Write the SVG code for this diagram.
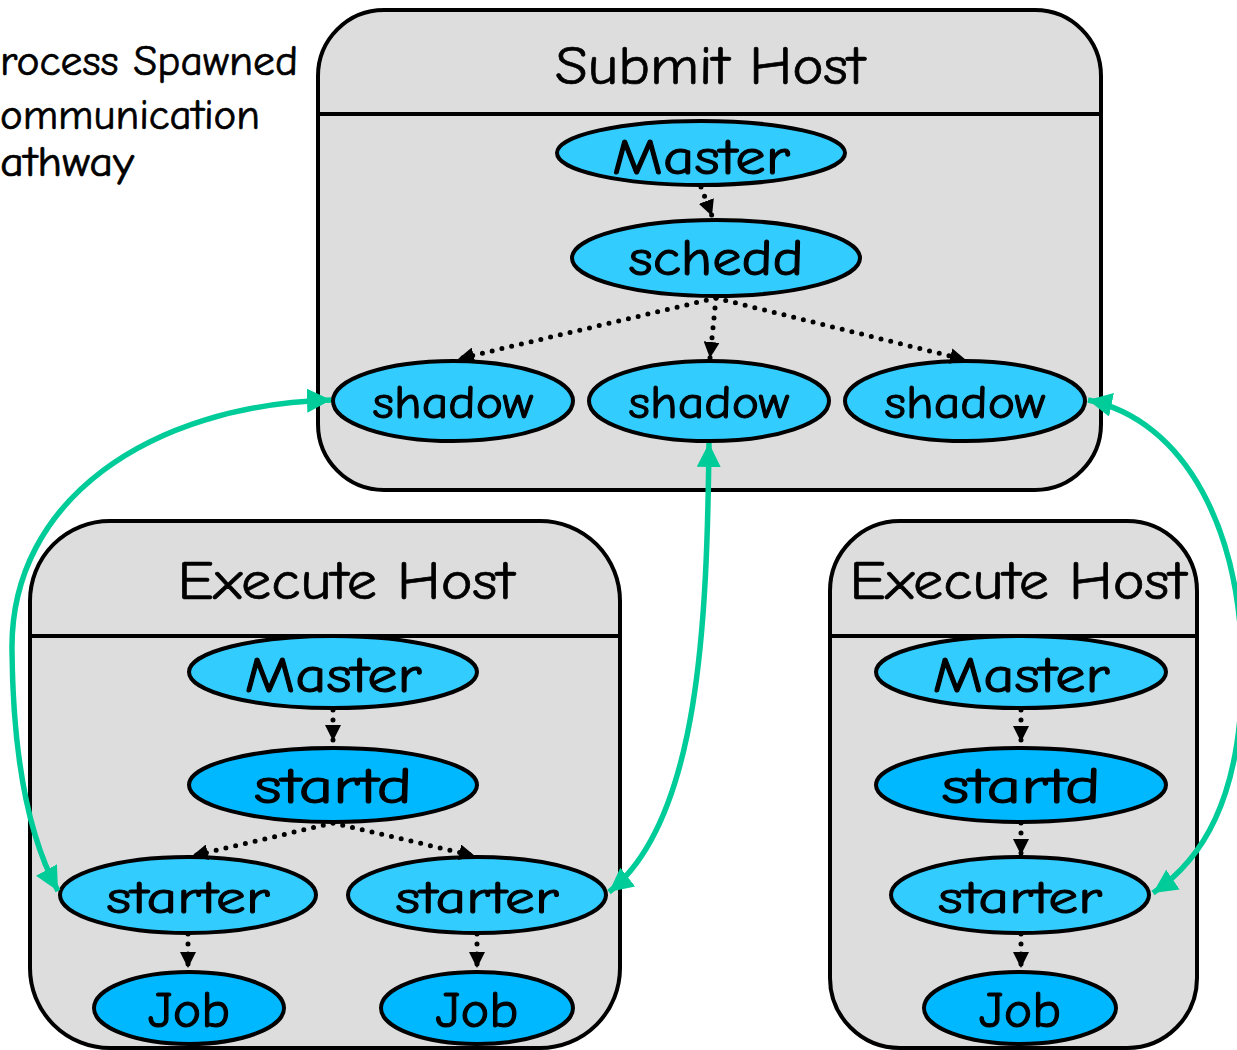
<svg xmlns="http://www.w3.org/2000/svg" width="1237" height="1050" viewBox="0 0 1237 1050">
  <style>
    text { font-family: "Comic Sans MS", "Comic Neue", "Noto Sans", "DejaVu Sans", sans-serif; fill: #000; stroke: #000; stroke-width: 0.7; }
    .host { fill: #dddddd; stroke: #000; stroke-width: 4; }
    .divider { stroke: #000; stroke-width: 4; }
    .title { font-size: 54px; text-anchor: middle; }
    .proc { fill: #33ccff; stroke: #000; stroke-width: 4; }
    .proc2 { fill: #00b8ff; stroke: #000; stroke-width: 4; }
    .label { font-size: 50px; text-anchor: middle; stroke-width: 1; }
    .label-s { font-size: 46px; text-anchor: middle; stroke-width: 1; }
    .legend { font-size: 42px; }
    .spawn { fill: none; stroke: #000; stroke-width: 5; stroke-linecap: round; stroke-dasharray: 0 10; }
    .comm { fill: none; stroke: #00cc99; stroke-width: 5.5; }
  </style>
  <defs>
    <marker id="spawnHead" markerUnits="userSpaceOnUse" markerWidth="18" markerHeight="16" refX="16" refY="8" orient="auto">
      <path d="M0,0 L16,8 L0,16 Z" fill="#000"/>
    </marker>
    <marker id="commHead" markerUnits="userSpaceOnUse" markerWidth="26" markerHeight="24" refX="24" refY="12" orient="auto-start-reverse">
      <path d="M0,0 L24,12 L0,24 Z" fill="#00cc99"/>
    </marker>
  </defs>

  <!-- legend text -->
  <g id="legend">
    <text class="legend" x="0" y="75" textLength="298" lengthAdjust="spacingAndGlyphs">rocess Spawned</text>
    <text class="legend" x="0" y="129" textLength="260" lengthAdjust="spacingAndGlyphs">ommunication</text>
    <text class="legend" x="0" y="176" textLength="134" lengthAdjust="spacingAndGlyphs">athway</text>
  </g>

  <!-- host containers -->
  <g id="submit-host">
    <rect class="host" x="318" y="10" width="783" height="480" rx="66" ry="66"/>
    <line class="divider" x1="318" y1="114" x2="1101" y2="114"/>
    <text class="title" x="710" y="84" textLength="310" lengthAdjust="spacingAndGlyphs">Submit Host</text>
  </g>
  <g id="execute-host-1">
    <rect class="host" x="30" y="521" width="590" height="527" rx="80" ry="80"/>
    <line class="divider" x1="30" y1="636" x2="620" y2="636"/>
    <text class="title" x="346" y="599" textLength="337" lengthAdjust="spacingAndGlyphs">Execute Host</text>
  </g>
  <g id="execute-host-2">
    <rect class="host" x="830" y="521" width="367" height="527" rx="70" ry="70"/>
    <line class="divider" x1="830" y1="636" x2="1197" y2="636"/>
    <text class="title" x="1018" y="599" textLength="337" lengthAdjust="spacingAndGlyphs">Execute Host</text>
  </g>

  <!-- submit host processes -->
  <g id="submit-master">
    <ellipse class="proc" cx="701" cy="153" rx="144" ry="32"/>
    <text class="label" x="701" y="174" textLength="178" lengthAdjust="spacingAndGlyphs">Master</text>
  </g>
  <g id="schedd">
    <ellipse class="proc" cx="716" cy="258" rx="144" ry="38"/>
    <text class="label" x="716" y="275" textLength="175" lengthAdjust="spacingAndGlyphs">schedd</text>
  </g>
  <g id="shadow-1">
    <ellipse class="proc" cx="453" cy="401" rx="120" ry="40"/>
    <text class="label-s" x="453" y="418" textLength="161" lengthAdjust="spacingAndGlyphs">shadow</text>
  </g>
  <g id="shadow-2">
    <ellipse class="proc" cx="709" cy="401" rx="120" ry="40"/>
    <text class="label-s" x="709" y="418" textLength="161" lengthAdjust="spacingAndGlyphs">shadow</text>
  </g>
  <g id="shadow-3">
    <ellipse class="proc" cx="965" cy="401" rx="120" ry="40"/>
    <text class="label-s" x="965" y="418" textLength="161" lengthAdjust="spacingAndGlyphs">shadow</text>
  </g>

  <!-- execute host 1 processes -->
  <g id="exec1-master">
    <ellipse class="proc" cx="333" cy="672" rx="144" ry="36"/>
    <text class="label" x="333" y="692" textLength="177" lengthAdjust="spacingAndGlyphs">Master</text>
  </g>
  <g id="exec1-startd">
    <ellipse class="proc2" cx="333" cy="785" rx="144" ry="37"/>
    <text class="label" x="333" y="803" textLength="158" lengthAdjust="spacingAndGlyphs">startd</text>
  </g>
  <g id="exec1-starter-1">
    <ellipse class="proc" cx="188" cy="895" rx="128" ry="38"/>
    <text class="label-s" x="188" y="913" textLength="163" lengthAdjust="spacingAndGlyphs">starter</text>
  </g>
  <g id="exec1-starter-2">
    <ellipse class="proc" cx="477" cy="895" rx="129" ry="38"/>
    <text class="label-s" x="477" y="913" textLength="163" lengthAdjust="spacingAndGlyphs">starter</text>
  </g>
  <g id="exec1-job-1">
    <ellipse class="proc2" cx="189" cy="1008" rx="95" ry="36"/>
    <text class="label" x="189" y="1027" textLength="82" lengthAdjust="spacingAndGlyphs">Job</text>
  </g>
  <g id="exec1-job-2">
    <ellipse class="proc2" cx="477" cy="1008" rx="96" ry="36"/>
    <text class="label" x="477" y="1027" textLength="83" lengthAdjust="spacingAndGlyphs">Job</text>
  </g>

  <!-- execute host 2 processes -->
  <g id="exec2-master">
    <ellipse class="proc" cx="1021" cy="672" rx="145" ry="36"/>
    <text class="label" x="1021" y="692" textLength="177" lengthAdjust="spacingAndGlyphs">Master</text>
  </g>
  <g id="exec2-startd">
    <ellipse class="proc2" cx="1021" cy="785" rx="145" ry="37"/>
    <text class="label" x="1021" y="803" textLength="159" lengthAdjust="spacingAndGlyphs">startd</text>
  </g>
  <g id="exec2-starter">
    <ellipse class="proc" cx="1020" cy="895" rx="129" ry="38"/>
    <text class="label-s" x="1020" y="913" textLength="164" lengthAdjust="spacingAndGlyphs">starter</text>
  </g>
  <g id="exec2-job">
    <ellipse class="proc2" cx="1020" cy="1008" rx="96" ry="36"/>
    <text class="label" x="1020" y="1027" textLength="82" lengthAdjust="spacingAndGlyphs">Job</text>
  </g>

  <!-- connectors -->
  <g id="connectors">
    <!-- spawn relations (dotted) -->
    <path class="spawn" marker-end="url(#spawnHead)" d="M701,187 L712,216"/>
    <path class="spawn" marker-end="url(#spawnHead)" d="M716,298 L458,359"/>
    <path class="spawn" marker-end="url(#spawnHead)" d="M716,298 L710,358"/>
    <path class="spawn" marker-end="url(#spawnHead)" d="M716,298 L966,360"/>

    <path class="spawn" marker-end="url(#spawnHead)" d="M333,710 L333,741"/>
    <path class="spawn" marker-end="url(#spawnHead)" d="M333,823 L192,856"/>
    <path class="spawn" marker-end="url(#spawnHead)" d="M333,823 L475,856"/>
    <path class="spawn" marker-end="url(#spawnHead)" d="M188,934 L188,968"/>
    <path class="spawn" marker-end="url(#spawnHead)" d="M477,934 L477,968"/>

    <path class="spawn" marker-end="url(#spawnHead)" d="M1021,710 L1021,742"/>
    <path class="spawn" marker-end="url(#spawnHead)" d="M1021,823 L1021,855"/>
    <path class="spawn" marker-end="url(#spawnHead)" d="M1021,934 L1021,968"/>

    <!-- communication pathways (two-way) -->
    <path class="comm" marker-start="url(#commHead)" marker-end="url(#commHead)" d="M331,400 C150,405 10,500 12,650 C13,760 30,840 58,891"/>
    <path class="comm" marker-start="url(#commHead)" marker-end="url(#commHead)" d="M709,443 C707,620 700,820 609,892"/>
    <path class="comm" marker-start="url(#commHead)" marker-end="url(#commHead)" d="M1088,400 C1185,420 1244,530 1242,680 C1240,800 1202,860 1153,893"/>
  </g>
</svg>
